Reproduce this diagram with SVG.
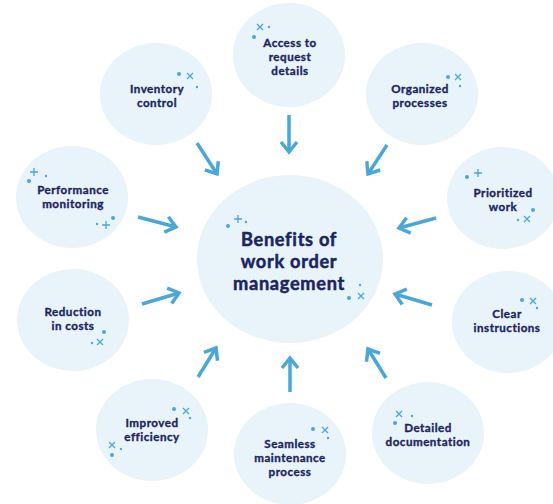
<svg xmlns="http://www.w3.org/2000/svg" width="553" height="504" viewBox="0 0 553 504">
<defs>
<style>
.bub{fill:#e9f3fa;}
.lbl{font-family:Lato,"Liberation Sans",sans-serif;font-weight:700;font-size:11.6px;letter-spacing:0.5px;fill:#1b2462;stroke:#1b2462;stroke-width:0.35px;text-anchor:middle;}
.big{font-family:Lato,"Liberation Sans",sans-serif;font-weight:700;font-size:18.2px;letter-spacing:0.7px;fill:#1b2462;stroke:#1b2462;stroke-width:0.5px;text-anchor:middle;}
.arr{stroke:#4aa7d7;stroke-width:3.5;fill:none;stroke-linecap:butt;}
.dot{fill:#4aa7d7;}
.sp{stroke:#4aa7d7;stroke-width:1.3;fill:none;}
</style>
<marker id="ah" viewBox="0 0 14 18" refX="11" refY="9" markerWidth="14" markerHeight="18" markerUnits="userSpaceOnUse" orient="auto" overflow="visible">
<path d="M1,1 L11,9 L1,17" stroke="#4aa7d7" stroke-width="3.5" fill="none"/>
</marker>
<g id="xm"><path class="sp" d="M-3,-3 L3,3 M-3,3 L3,-3"/></g>
<g id="pm"><path class="sp" d="M-4,0 L4,0 M0,-4 L0,4"/></g>
</defs>
<rect width="553" height="504" fill="#ffffff"/>

<g id="connectors">
<line class="arr" x1="289" y1="115" x2="289" y2="152" marker-end="url(#ah)"/>
<line class="arr" x1="197" y1="143" x2="217" y2="174" marker-end="url(#ah)"/>
<line class="arr" x1="387" y1="145" x2="368" y2="174" marker-end="url(#ah)"/>
<line class="arr" x1="138" y1="217" x2="176" y2="227" marker-end="url(#ah)"/>
<line class="arr" x1="436" y1="218" x2="399" y2="228" marker-end="url(#ah)"/>
<line class="arr" x1="142" y1="304" x2="179" y2="293" marker-end="url(#ah)"/>
<line class="arr" x1="432" y1="305" x2="395" y2="294" marker-end="url(#ah)"/>
<line class="arr" x1="198" y1="377" x2="216" y2="348" marker-end="url(#ah)"/>
<line class="arr" x1="386" y1="378" x2="368" y2="349" marker-end="url(#ah)"/>
<line class="arr" x1="290" y1="392" x2="290" y2="358" marker-end="url(#ah)"/>
</g>

<g id="center">
<ellipse class="bub" cx="290" cy="259" rx="93" ry="84"/>
<text class="big" x="289" y="246">Benefits of</text>
<text class="big" x="289" y="268">work order</text>
<text class="big" x="289" y="290">management</text>
<circle class="dot" cx="228" cy="226" r="2"/><use href="#pm" x="238" y="219"/><circle class="dot" cx="246" cy="222" r="1.2"/>
<circle class="dot" cx="360" cy="285" r="1.2"/><circle class="dot" cx="349" cy="298" r="2"/><use href="#xm" x="361" y="296"/>
</g>

<g id="access">
<ellipse class="bub" cx="289" cy="55" rx="56" ry="52"/>
<text class="lbl" x="290" y="47">Access to</text>
<text class="lbl" x="290" y="61">request</text>
<text class="lbl" x="290" y="75">details</text>
<use href="#xm" x="260" y="27"/><circle class="dot" cx="269" cy="27" r="1.2"/><circle class="dot" cx="254" cy="37" r="2"/>
</g>

<g id="inventory">
<ellipse class="bub" cx="156" cy="94" rx="56" ry="51"/>
<text class="lbl" x="157" y="93">Inventory</text>
<text class="lbl" x="157" y="107">control</text>
<circle class="dot" cx="179" cy="74" r="2"/><use href="#xm" x="190" y="76"/><circle class="dot" cx="197" cy="87" r="1.2"/>
</g>

<g id="organized">
<ellipse class="bub" cx="422" cy="94" rx="56" ry="51"/>
<text class="lbl" x="420" y="93">Organized</text>
<text class="lbl" x="420" y="107">processes</text>
<circle class="dot" cx="448" cy="77" r="2"/><use href="#xm" x="458" y="77"/><circle class="dot" cx="460" cy="86" r="1.2"/>
</g>

<g id="performance">
<ellipse class="bub" cx="72" cy="197" rx="56" ry="51"/>
<text class="lbl" x="73" y="194">Performance</text>
<text class="lbl" x="73" y="208">monitoring</text>
<use href="#pm" x="34" y="172"/><circle class="dot" cx="46" cy="176" r="1.2"/><circle class="dot" cx="29" cy="181" r="2"/>
<circle class="dot" cx="113" cy="218" r="2"/><circle class="dot" cx="97" cy="224" r="1.2"/><use href="#pm" x="106" y="225"/>
</g>

<g id="prioritized">
<ellipse class="bub" cx="503" cy="198" rx="56" ry="51"/>
<text class="lbl" x="503" y="197">Prioritized</text>
<text class="lbl" x="503" y="211">work</text>
<circle class="dot" cx="467" cy="177" r="2"/><use href="#pm" x="478" y="173"/>
<circle class="dot" cx="533" cy="210" r="2"/><circle class="dot" cx="518" cy="220" r="1.2"/><use href="#xm" x="527" y="219"/>
</g>

<g id="reduction">
<ellipse class="bub" cx="73" cy="320" rx="56" ry="51"/>
<text class="lbl" x="73" y="316">Reduction</text>
<text class="lbl" x="73" y="330">in costs</text>
<circle class="dot" cx="104" cy="332" r="2"/><circle class="dot" cx="92" cy="343" r="1.2"/><use href="#xm" x="100" y="342"/>
</g>

<g id="clear">
<ellipse class="bub" cx="508" cy="322" rx="56" ry="51"/>
<text class="lbl" x="507" y="318">Clear</text>
<text class="lbl" x="507" y="332">instructions</text>
<circle class="dot" cx="522" cy="300" r="2"/><use href="#xm" x="533" y="301"/><circle class="dot" cx="537" cy="308" r="1.2"/>
</g>

<g id="improved">
<ellipse class="bub" cx="152" cy="430" rx="56" ry="51"/>
<text class="lbl" x="152" y="427">Improved</text>
<text class="lbl" x="152" y="441">efficiency</text>
<circle class="dot" cx="174" cy="409" r="2"/><use href="#xm" x="186" y="411"/><circle class="dot" cx="190" cy="418" r="1.2"/>
<use href="#xm" x="112" y="445"/><circle class="dot" cx="121" cy="449" r="1.2"/><circle class="dot" cx="112" cy="455" r="2"/>
</g>

<g id="seamless">
<ellipse class="bub" cx="290" cy="454" rx="56" ry="51"/>
<text class="lbl" x="290" y="448">Seamless</text>
<text class="lbl" x="290" y="462">maintenance</text>
<text class="lbl" x="290" y="476">process</text>
<circle class="dot" cx="313" cy="429" r="2"/><use href="#xm" x="325" y="430"/><circle class="dot" cx="328" cy="438" r="1.2"/>
</g>

<g id="detailed">
<ellipse class="bub" cx="428" cy="433" rx="56" ry="51"/>
<text class="lbl" x="428" y="432">Detailed</text>
<text class="lbl" x="428" y="446">documentation</text>
<use href="#xm" x="399" y="414"/><circle class="dot" cx="412" cy="416" r="1.2"/><circle class="dot" cx="395" cy="423" r="2"/>
</g>
</svg>
